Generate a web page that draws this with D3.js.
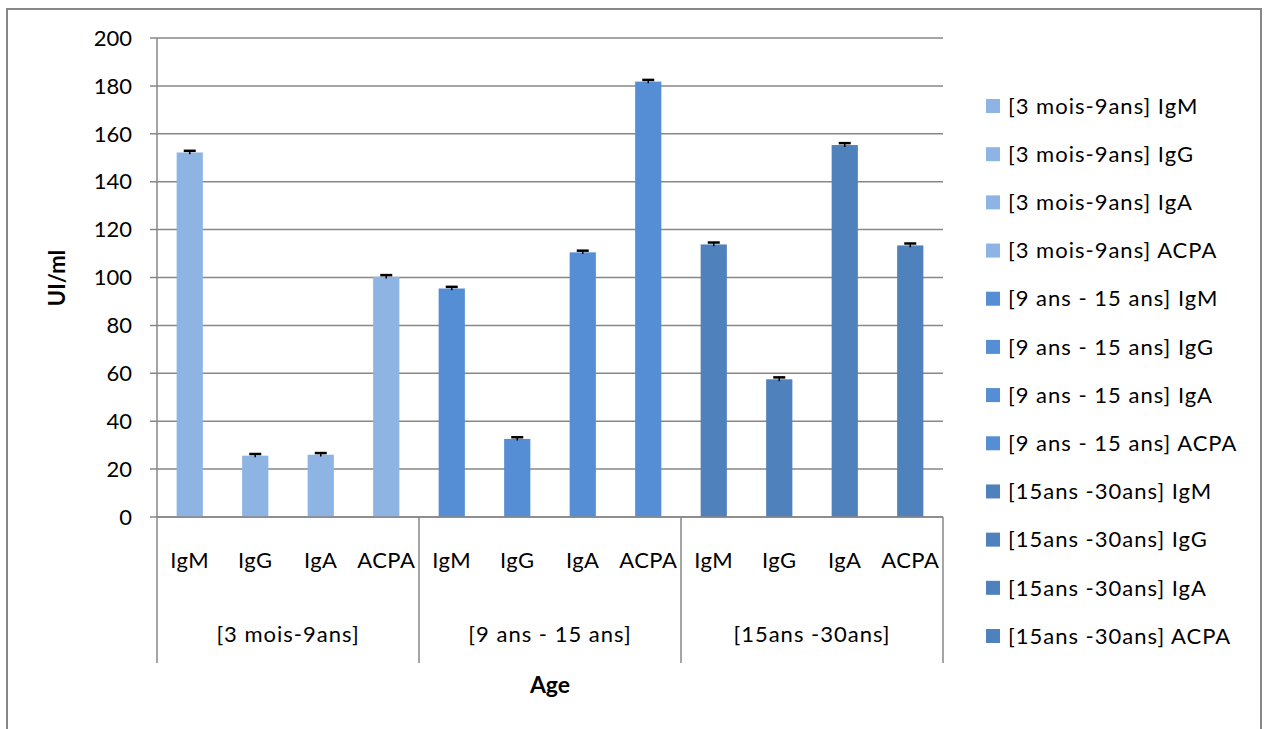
<!DOCTYPE html>
<html>
<head>
<meta charset="utf-8">
<script src="https://cdn.jsdelivr.net/npm/d3@7"></script>
<style>
  html, body { margin: 0; padding: 0; background: #fff; }
  svg { display: block; font-family: Lato, "Open Sans", sans-serif; }
</style>
</head>
<body>
<svg id="chart" width="1267" height="729"></svg>
<script>
const groups = ["[3 mois-9ans]", "[9 ans - 15 ans]", "[15ans -30ans]"];
const tests = ["IgM", "IgG", "IgA", "ACPA"];
const values3to9 = [152.2, 25.6, 26.0, 100.3];
const values9to15 = [95.4, 32.6, 110.5, 181.8];
const values15to30 = [113.8, 57.5, 155.3, 113.4];
const errors3to9 = [0.7, 0.7, 0.7, 0.7];
const errors9to15 = [0.7, 0.7, 0.7, 0.7];
const errors15to30 = [0.8, 0.8, 0.8, 0.8];
const groupColors = ["#8EB4E3", "#558ED5", "#4F81BD"];
const yTicks = [0, 20, 40, 60, 80, 100, 120, 140, 160, 180, 200];

const allValues = [values3to9, values9to15, values15to30];
const allErrors = [errors3to9, errors9to15, errors15to30];
const data = [];
groups.forEach((g, gi) => {
  tests.forEach((t, ti) => {
    data.push({ group: g, gi, test: t, value: allValues[gi][ti], err: allErrors[gi][ti], idx: gi * tests.length + ti });
  });
});

const svg = d3.select("#chart");
const gridColor = "#878787";

// outer frame
svg.append("rect").attr("x", 7).attr("y", 9).attr("width", 1254).attr("height", 740)
  .attr("fill", "#fff").attr("stroke", gridColor).attr("stroke-width", 2);

const plot = { left: 157, right: 943, top: 38, bottom: 517 };
const x = d3.scaleBand().domain(d3.range(data.length)).range([plot.left, plot.right]).padding(0);
const xg = d3.scaleBand().domain(groups).range([plot.left, plot.right]).padding(0);
const y = d3.scaleLinear().domain([0, 200]).range([plot.bottom, plot.top]);

// gridlines
svg.append("g").selectAll("line").data(yTicks).join("line")
  .attr("x1", plot.left - 7).attr("x2", plot.right)
  .attr("y1", d => y(d)).attr("y2", d => y(d))
  .attr("stroke", gridColor).attr("stroke-width", 1.5);

// y axis line
svg.append("line").attr("x1", plot.left).attr("x2", plot.left)
  .attr("y1", plot.top).attr("y2", plot.bottom)
  .attr("stroke", gridColor).attr("stroke-width", 1.5);

// y tick labels
svg.append("g").selectAll("text").data(yTicks).join("text")
  .attr("x", 132).attr("y", d => y(d)).attr("dy", "0.35em")
  .attr("text-anchor", "end").attr("font-size", 22).attr("fill", "#000")
  .text(d => d);

// bars
const barW = x.bandwidth() * 0.4;
svg.append("g").selectAll("rect").data(data).join("rect")
  .attr("x", d => x(d.idx) + x.bandwidth() / 2 - barW / 2)
  .attr("width", barW)
  .attr("y", d => y(d.value))
  .attr("height", d => y(0) - y(d.value))
  .attr("fill", d => groupColors[d.gi]);

// error bars
const eb = svg.append("g").attr("stroke", "#000").attr("stroke-width", 2.5);
data.forEach(d => {
  const cx = x(d.idx) + x.bandwidth() / 2;
  eb.append("line").attr("x1", cx).attr("x2", cx).attr("y1", y(d.value + d.err)).attr("y2", y(d.value - d.err)).attr("stroke-width", 1.5);
  eb.append("line").attr("x1", cx - 6).attr("x2", cx + 6).attr("y1", y(d.value + d.err)).attr("y2", y(d.value + d.err));
});

// x axis line (bottom)
svg.append("line").attr("x1", plot.left).attr("x2", plot.right)
  .attr("y1", plot.bottom).attr("y2", plot.bottom)
  .attr("stroke", gridColor).attr("stroke-width", 1.5);

// group separators
const seps = groups.map(g => xg(g)).concat([plot.right]);
svg.append("g").selectAll("line").data(seps).join("line")
  .attr("x1", d => d).attr("x2", d => d)
  .attr("y1", plot.bottom).attr("y2", 663)
  .attr("stroke", gridColor).attr("stroke-width", 1.5);

// category labels
svg.append("g").selectAll("text").data(data).join("text")
  .attr("x", d => x(d.idx) + x.bandwidth() / 2).attr("y", 568)
  .attr("text-anchor", "middle").attr("font-size", 22).attr("letter-spacing", 0.5).attr("fill", "#000")
  .text(d => d.test);

// group labels
svg.append("g").selectAll("text").data(groups).join("text")
  .attr("x", d => xg(d) + xg.bandwidth() / 2).attr("y", 642)
  .attr("text-anchor", "middle").attr("font-size", 22).attr("letter-spacing", 1).attr("fill", "#000")
  .text(d => d);

// axis titles
svg.append("text").attr("transform", "translate(65,278) rotate(-90)")
  .attr("text-anchor", "middle").attr("font-size", 22).attr("font-weight", "bold")
  .text("UI/ml");
svg.append("text").attr("x", 550).attr("y", 693)
  .attr("text-anchor", "middle").attr("font-size", 23).attr("font-weight", "bold")
  .text("Age");

// legend
const legend = svg.append("g");
const legItems = data.map(d => ({ label: d.group + " " + d.test, color: groupColors[d.gi] }));
const legY = d3.scaleLinear().domain([0, 11]).range([106, 636]);
const li = legend.selectAll("g").data(legItems).join("g")
  .attr("transform", (d, i) => `translate(986,${legY(i)})`);
li.append("rect").attr("x", 0).attr("y", -7).attr("width", 14).attr("height", 14).attr("fill", d => d.color);
li.append("text").attr("x", 22).attr("y", 0).attr("dy", "0.35em")
  .attr("font-size", 22).attr("letter-spacing", 1).attr("fill", "#000").text(d => d.label);
</script>
</body>
</html>
